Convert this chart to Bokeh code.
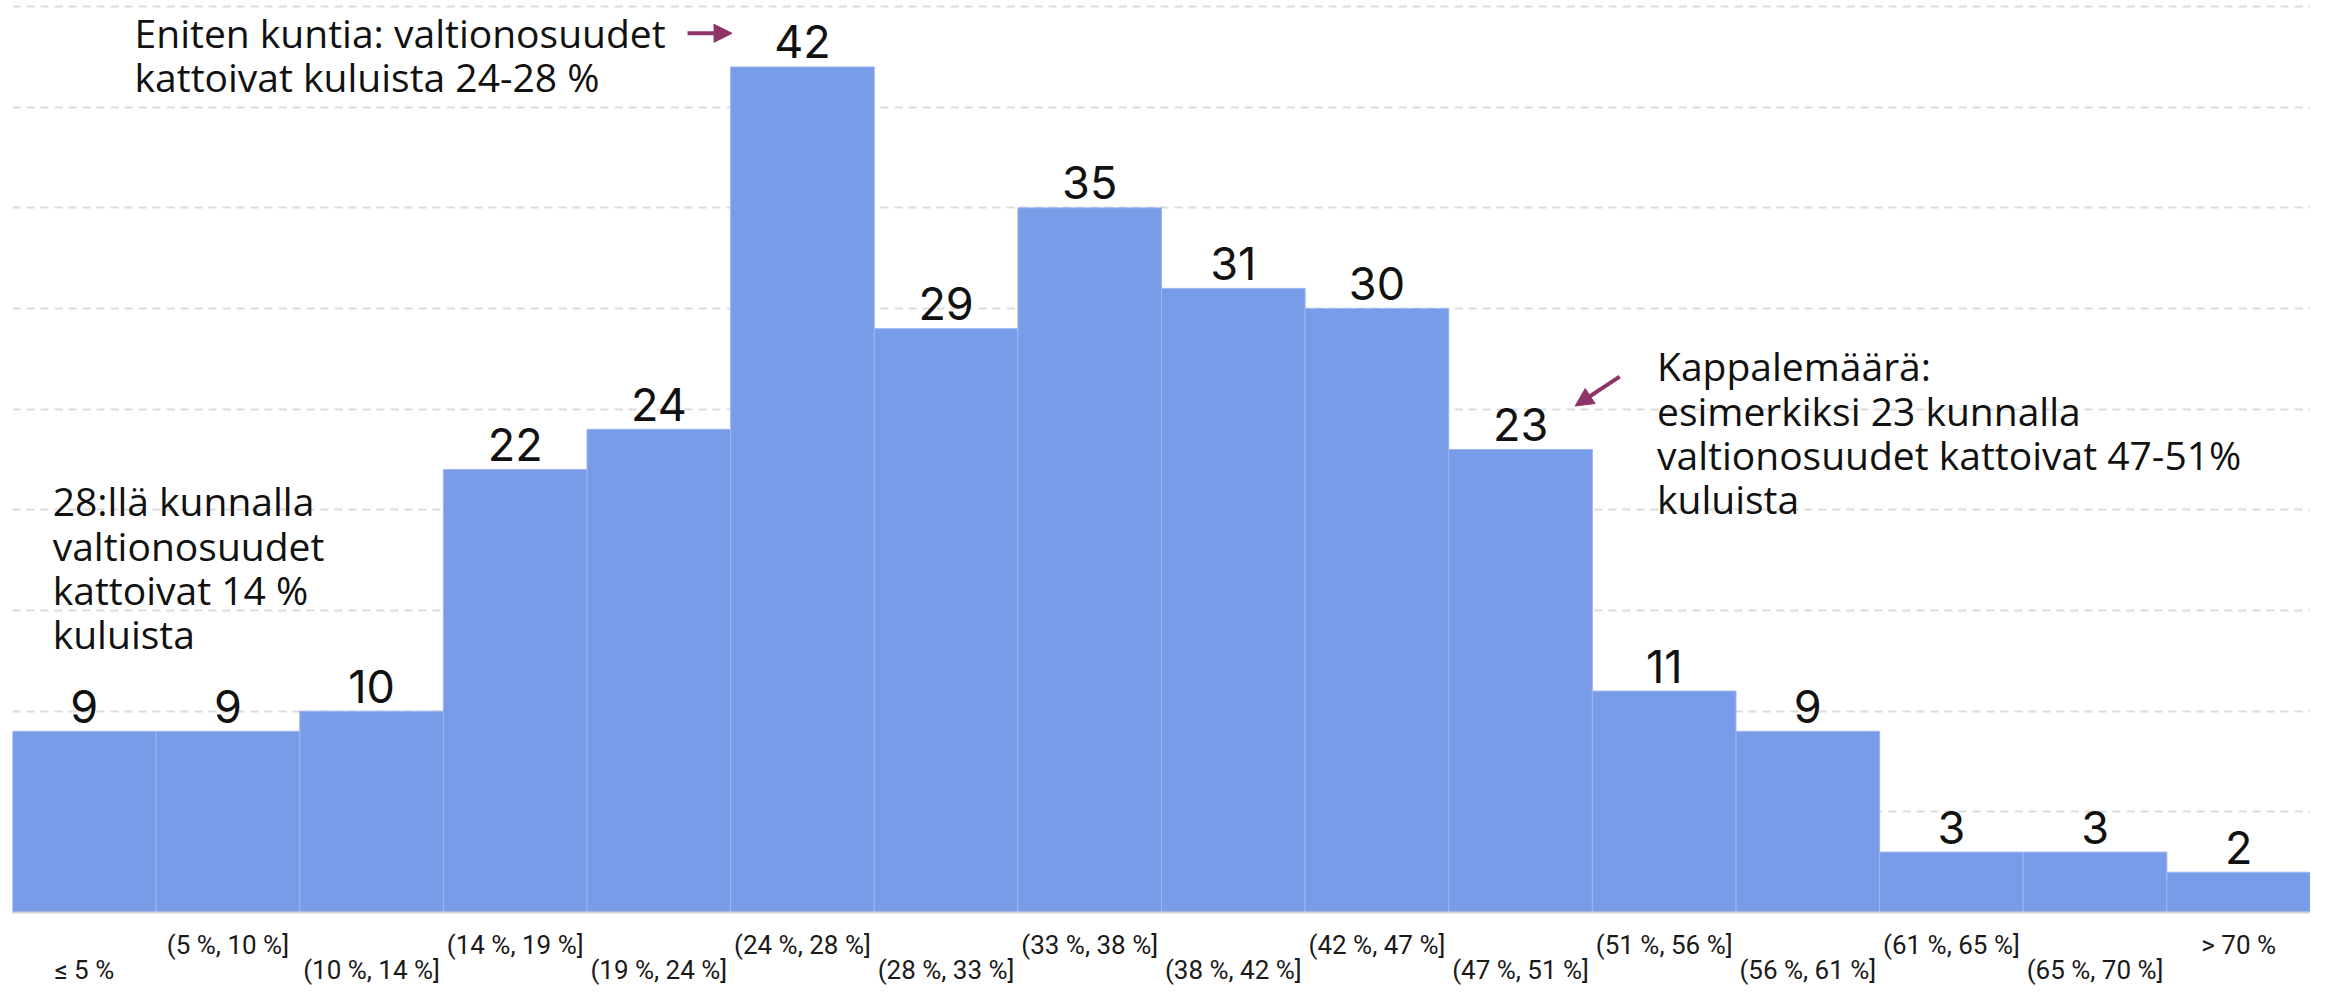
from bokeh.plotting import figure
from bokeh.models import Range1d, FixedTicker, LinearAxis, Arrow, NormalHead, ColumnDataSource
from bokeh.core.properties import value
from bokeh.embed import file_html
from bokeh.resources import INLINE

# ---- data ----
categories = ["≤ 5 %", "(5 %, 10 %]", "(10 %, 14 %]", "(14 %, 19 %]", "(19 %, 24 %]",
              "(24 %, 28 %]", "(28 %, 33 %]", "(33 %, 38 %]", "(38 %, 42 %]", "(42 %, 47 %]",
              "(47 %, 51 %]", "(51 %, 56 %]", "(56 %, 61 %]", "(61 %, 65 %]", "(65 %, 70 %]",
              "> 70 %"]
counts = [9, 9, 10, 22, 24, 42, 29, 35, 31, 30, 23, 11, 9, 3, 3, 2]
grid_values = [5, 10, 15, 20, 25, 30, 35, 40, 45]

note_top = ["Eniten kuntia: valtionosuudet", "kattoivat kuluista 24-28 %"]
note_left = ["28:llä kunnalla", "valtionosuudet", "kattoivat 14 %", "kuluista"]
note_right = ["Kappalemäärä:", "esimerkiksi 23 kunnalla", "valtionosuudet kattoivat 47-51%", "kuluista"]

# ---- style constants ----
BAR = "#799ce8"
TXT = "#111111"
ARROW = "#8e3468"
YMAX = 45.3
LINE = 2.2  # line spacing in data units

centers = [i + 0.5 for i in range(len(categories))]

p = figure(width=2310, height=987, x_range=Range1d(0, len(categories)), y_range=Range1d(0, YMAX),
           output_backend="svg", toolbar_location=None, x_axis_location=None, y_axis_location=None,
           min_border_left=12, min_border_right=0, min_border_top=0, min_border_bottom=0)
p.outline_line_color = None
p.background_fill_color = "white"
p.border_fill_color = "white"

p.xgrid.visible = False
p.ygrid.ticker = FixedTicker(ticks=grid_values)
p.ygrid.grid_line_color = "#dcdcdc"
p.ygrid.grid_line_width = 2
p.ygrid.grid_line_dash = "8 6"

src = ColumnDataSource(dict(x=centers, top=counts, label=[str(c) for c in counts]))
p.vbar(x="x", top="top", width=1, bottom=0, source=src, fill_color=BAR,
       line_color="#9db5f0", line_width=1)
p.text(x="x", y="top", text="label", source=src, text_align="center", text_baseline="alphabetic",
       y_offset=-25, text_font=value("Inter"), text_font_size="45px", text_color=TXT)

# two rows of category labels
odd = [c for i, c in enumerate(centers) if i % 2 == 1]
even = [c for i, c in enumerate(centers) if i % 2 == 0]
ax1 = LinearAxis(ticker=FixedTicker(ticks=odd),
                 major_label_overrides={c: categories[i] for i, c in enumerate(centers) if i % 2 == 1})
ax2 = LinearAxis(ticker=FixedTicker(ticks=even),
                 major_label_overrides={c: categories[i] for i, c in enumerate(centers) if i % 2 == 0})
for ax, st in ((ax1, 11), (ax2, -14)):
    ax.major_tick_line_color = None
    ax.minor_tick_line_color = None
    ax.major_label_standoff = st
    ax.major_label_text_font = "Roboto"
    ax.major_label_text_font_size = "26px"
    ax.major_label_text_color = "#1a1a1a"
ax1.axis_line_color = "#d2d2d2"
ax1.axis_line_width = 2
ax2.axis_line_color = None
p.add_layout(ax1, "below")
p.add_layout(ax2, "below")

def note(lines, x, y0):
    ys = [y0 - i * LINE for i in range(len(lines))]
    p.text(x=[x] * len(lines), y=ys, text=lines, text_align="left", text_baseline="alphabetic",
           y_offset=-9, text_font=value("Open Sans"), text_font_size="39px", text_color=TXT)

note(note_top, 0.85, 43.28)
note(note_left, 0.28, 20.0)
note(note_right, 11.45, 26.7)

p.add_layout(Arrow(x_start=4.70, y_start=43.67, x_end=5.01, y_end=43.67,
                   line_color=ARROW, line_width=4,
                   end=NormalHead(size=18, fill_color=ARROW, line_color=ARROW)))
p.add_layout(Arrow(x_start=11.19, y_start=26.62, x_end=10.88, y_end=25.16,
                   line_color=ARROW, line_width=4,
                   end=NormalHead(size=18, fill_color=ARROW, line_color=ARROW)))

open("out.html", "w").write(file_html(p, INLINE))
